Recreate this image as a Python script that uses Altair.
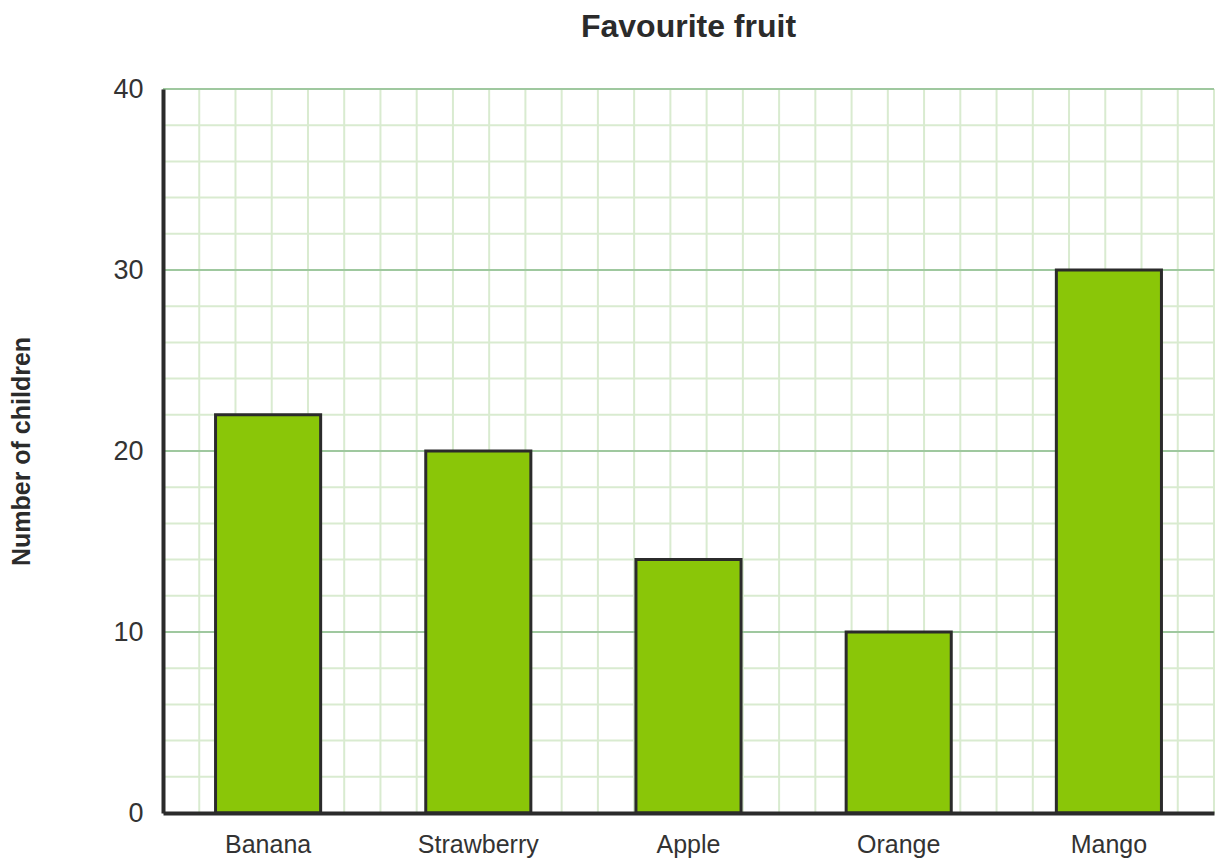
import altair as alt
import pandas as pd

fruits = ["Banana", "Strawberry", "Apple", "Orange", "Mango"]
counts = [22, 20, 14, 10, 30]
y_ticks = [0, 10, 20, 30, 40]
major_y = [10, 20, 30, 40]
minor_y = [2, 4, 6, 8, 12, 14, 16, 18, 22, 24, 26, 28, 32, 34, 36, 38]
grid_x = list(range(30))

FONT = "Liberation Sans"
DARK = "#2b2b2b"
MINOR = "#d9ebd0"
MAJOR = "#9fc89f"
BAR = "#8ac608"

yscale = alt.Scale(domain=[0, 40], nice=False, zero=True)

df = pd.DataFrame({"fruit": fruits, "count": counts})

vgrid = alt.Chart(pd.DataFrame({"gx": grid_x})).mark_rule(
    color=MINOR, strokeWidth=2
).encode(
    x=alt.X("gx:Q", scale=alt.Scale(domain=[0, 29], nice=False, zero=False), axis=None)
)

hminor = alt.Chart(pd.DataFrame({"gy": minor_y})).mark_rule(
    color=MINOR, strokeWidth=2
).encode(y=alt.Y("gy:Q", scale=yscale, axis=None))

hmajor = alt.Chart(pd.DataFrame({"gy": major_y})).mark_rule(
    color=MAJOR, strokeWidth=2
).encode(y=alt.Y("gy:Q", scale=yscale, axis=None))

bars = alt.Chart(df).mark_bar(
    fill=BAR, stroke=DARK, strokeWidth=3
).encode(
    x=alt.X(
        "fruit:N",
        sort=fruits,
        scale=alt.Scale(paddingInner=0.5, paddingOuter=0.25),
        axis=alt.Axis(
            title=None,
            labelAngle=0,
            labelFont=FONT,
            labelFontSize=25,
            labelColor="#333333",
            labelPadding=19,
            ticks=False,
            grid=False,
            domain=True,
            domainColor=DARK,
            domainWidth=4,
            zindex=2,
        ),
    ),
    y=alt.Y(
        "count:Q",
        scale=yscale,
        axis=alt.Axis(
            values=y_ticks,
            title="Number of children",
            titleFont=FONT,
            titleFontSize=25,
            titleFontWeight="bold",
            titleColor=DARK,
            titleX=-142,
            titleY=362,
            titleAngle=-90,
            titleAlign="center",
            titleBaseline="middle",
            labelFont=FONT,
            labelFontSize=27,
            labelColor="#333333",
            labelPadding=20,
            ticks=False,
            grid=False,
            domain=True,
            domainColor=DARK,
            domainWidth=4,
            zindex=2,
        ),
    ),
)

chart = alt.layer(vgrid, hminor, hmajor, bars).resolve_scale(
    x="independent"
).resolve_axis(y="independent", x="independent").properties(
    width=1051,
    height=724,
    title=alt.TitleParams(
        "Favourite fruit",
        font=FONT,
        fontSize=32,
        fontWeight="bold",
        color=DARK,
        anchor="middle",
        frame="group",
        offset=31,
    ),
    autosize=alt.AutoSizeParams(type="none"),
    padding={"left": 155, "top": 81, "right": 2, "bottom": 45},
).configure_view(stroke=None).configure(background="white")

chart.save("out.html", embed_options={"renderer": "svg", "actions": False})
